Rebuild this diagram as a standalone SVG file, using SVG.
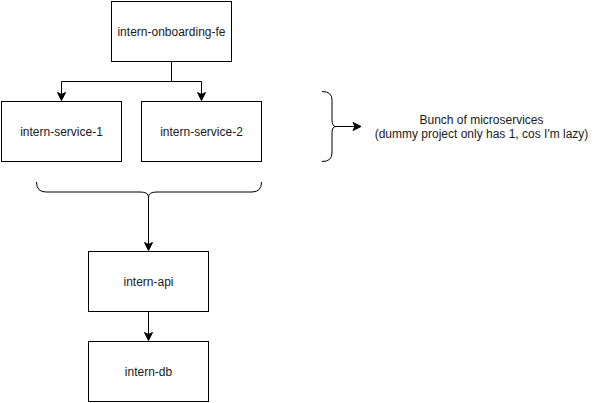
<svg xmlns="http://www.w3.org/2000/svg" width="603" height="403" viewBox="0 0 603 403">
<style>
.box{fill:#fff;stroke:#000;stroke-width:1}
.lbl{font-family:"Liberation Sans",Arial,sans-serif;font-size:12px;fill:#1a1a1a;text-anchor:middle}
.edge{fill:none;stroke:#000;stroke-width:1}
</style>
<defs>
<marker id="arr" markerUnits="userSpaceOnUse" markerWidth="10" markerHeight="10" viewBox="0 0 10 10" refX="9" refY="5" orient="auto">
<path d="M1,1 L9,5 L1,9 L3,5 Z" fill="#000" stroke="#000" stroke-width="1"/>
</marker>
</defs>
<rect width="603" height="403" fill="#fff"/>
<g id="connectors">
<path class="edge" d="M171.5,61.5 V81.5 H61.5 V100.5" marker-end="url(#arr)"/>
<path class="edge" d="M171.5,61.5 V81.5 H201.5 V100.5" marker-end="url(#arr)"/>
<path class="edge" d="M148.5,197 V250.5" marker-end="url(#arr)"/>
<path class="edge" d="M148.5,311.5 V340.5" marker-end="url(#arr)"/>
<path class="edge" d="M336,126.5 H361" marker-end="url(#arr)"/>
</g>
<g id="fe">
<rect class="box" x="111.5" y="1.5" width="120" height="60"/>
<text class="lbl" x="171.5" y="35.5">intern-onboarding-fe</text>
</g>
<g id="service1">
<rect class="box" x="1.5" y="101.5" width="120" height="60"/>
<text class="lbl" x="61.5" y="135.5">intern-service-1</text>
</g>
<g id="service2">
<rect class="box" x="141.5" y="101.5" width="120" height="60"/>
<text class="lbl" x="201.5" y="135.5">intern-service-2</text>
</g>
<g id="brace-bottom">
<path class="edge" d="M36.5,182 Q36.5,192 46,192 L140,192 Q148.5,192 148.5,197 Q148.5,192 157,192 L252,192 Q261.5,192 261.5,182"/>
</g>
<g id="brace-right">
<path class="edge" d="M322,91.5 Q332,91.5 332,100 L332,120 Q332,126.5 336,126.5 Q332,126.5 332,133 L332,153 Q332,161.5 322,161.5"/>
</g>
<g id="note">
<text class="lbl" x="481.5" y="124">Bunch of microservices</text>
<text class="lbl" x="481.5" y="138">(dummy project only has 1, cos I'm lazy)</text>
</g>
<g id="api">
<rect class="box" x="88.5" y="251.5" width="120" height="60"/>
<text class="lbl" x="148.5" y="285.5">intern-api</text>
</g>
<g id="db">
<rect class="box" x="88.5" y="341.5" width="120" height="60"/>
<text class="lbl" x="148.5" y="375.5">intern-db</text>
</g>
</svg>
